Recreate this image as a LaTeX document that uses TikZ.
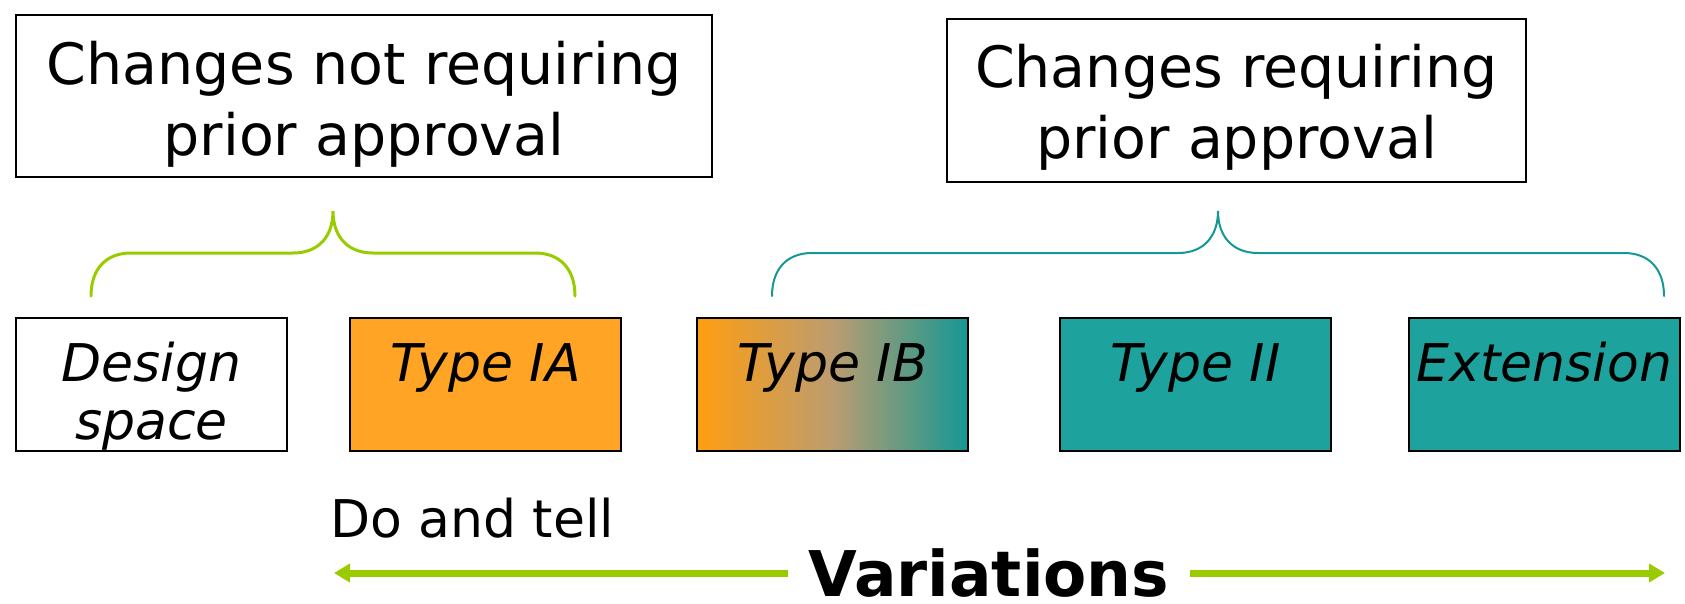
\documentclass[tikz,border=0pt]{standalone}
\usepackage{fontspec}
\setmainfont{DejaVu Sans}
\usepackage{tikz}
\usetikzlibrary{arrows.meta}

\definecolor{limeA}{RGB}{153,204,0}
\definecolor{tealA}{RGB}{20,152,148}
\definecolor{tealB}{RGB}{30,162,158}
\definecolor{orangeA}{RGB}{255,164,36}
\definecolor{orangeB}{RGB}{255,158,16}
\definecolor{tanA}{RGB}{188,156,112}

\tikzset{
  topbox/.style={draw, line width=2pt, align=center, inner sep=0pt, anchor=north west,
    font=\fontsize{57}{71}\selectfont},
  typebox/.style={draw, line width=2pt, align=center, inner sep=0pt, anchor=north west,
    minimum width=271pt, text height=63pt, text depth=70pt,
    font=\fontsize{52}{58}\selectfont\itshape},
  curly/.style={line width=#1, line cap=round},
  varrow/.style={limeA, line width=7pt, -{Triangle[length=16pt,width=18pt]}}
}

\begin{document}
\begin{tikzpicture}[x=1pt,y=-1pt]
\useasboundingbox (0,0) rectangle (1685,603);
% top boxes
\node [topbox, minimum width=696pt, text height=140pt, text depth=22pt] (noprior) at (15,14) {Changes not requiring\\prior approval};
\node [topbox, minimum width=579pt, text height=139pt, text depth=24pt] (prior) at (946,18) {Changes requiring\\prior approval};
% braces
\draw [curly=3pt, limeA] (91,296) .. controls (91,270) and (105,253) .. (131,253) -- (293,253)
  .. controls (319,253) and (333,236) .. (333,211) .. controls (333,236) and (347,253) .. (373,253)
  -- (535,253) .. controls (561,253) and (575,270) .. (575,296);
\draw [curly=2pt, tealA] (772,296) .. controls (772,270) and (786,253) .. (812,253) -- (1178,253)
  .. controls (1204,253) and (1218,236) .. (1218,211) .. controls (1218,236) and (1232,253) .. (1258,253)
  -- (1624,253) .. controls (1650,253) and (1664,270) .. (1664,296);
% variation types
\node [typebox, fill=white, text height=121pt, text depth=12pt] (design) at (15,317) {Design\\space};
\node [typebox, fill=orangeA] (typeIA) at (349,317) {Type IA};
\node [typebox, left color=orangeB, right color=tealA, middle color=tanA] (typeIB) at (696,317) {Type IB};
\node [typebox, fill=tealB] (typeII) at (1059,317) {Type II};
\node [typebox, fill=tealB] (ext) at (1408,317) {Extension};
% bottom
\node [anchor=base west, inner sep=0pt, font=\fontsize{52}{58}\selectfont] (dotell) at (330,537) {Do and tell};
\node [anchor=base, inner xsep=21pt, inner ysep=0pt, font=\fontsize{63}{70}\selectfont\bfseries] (vars) at (989,596) {Variations};
\coordinate (vleft) at (334,573);
\coordinate (vright) at (1665,573);
\draw [varrow] (vars.west |- vleft) -- (vleft);
\draw [varrow] (vars.east |- vright) -- (vright);
\end{tikzpicture}
\end{document}
